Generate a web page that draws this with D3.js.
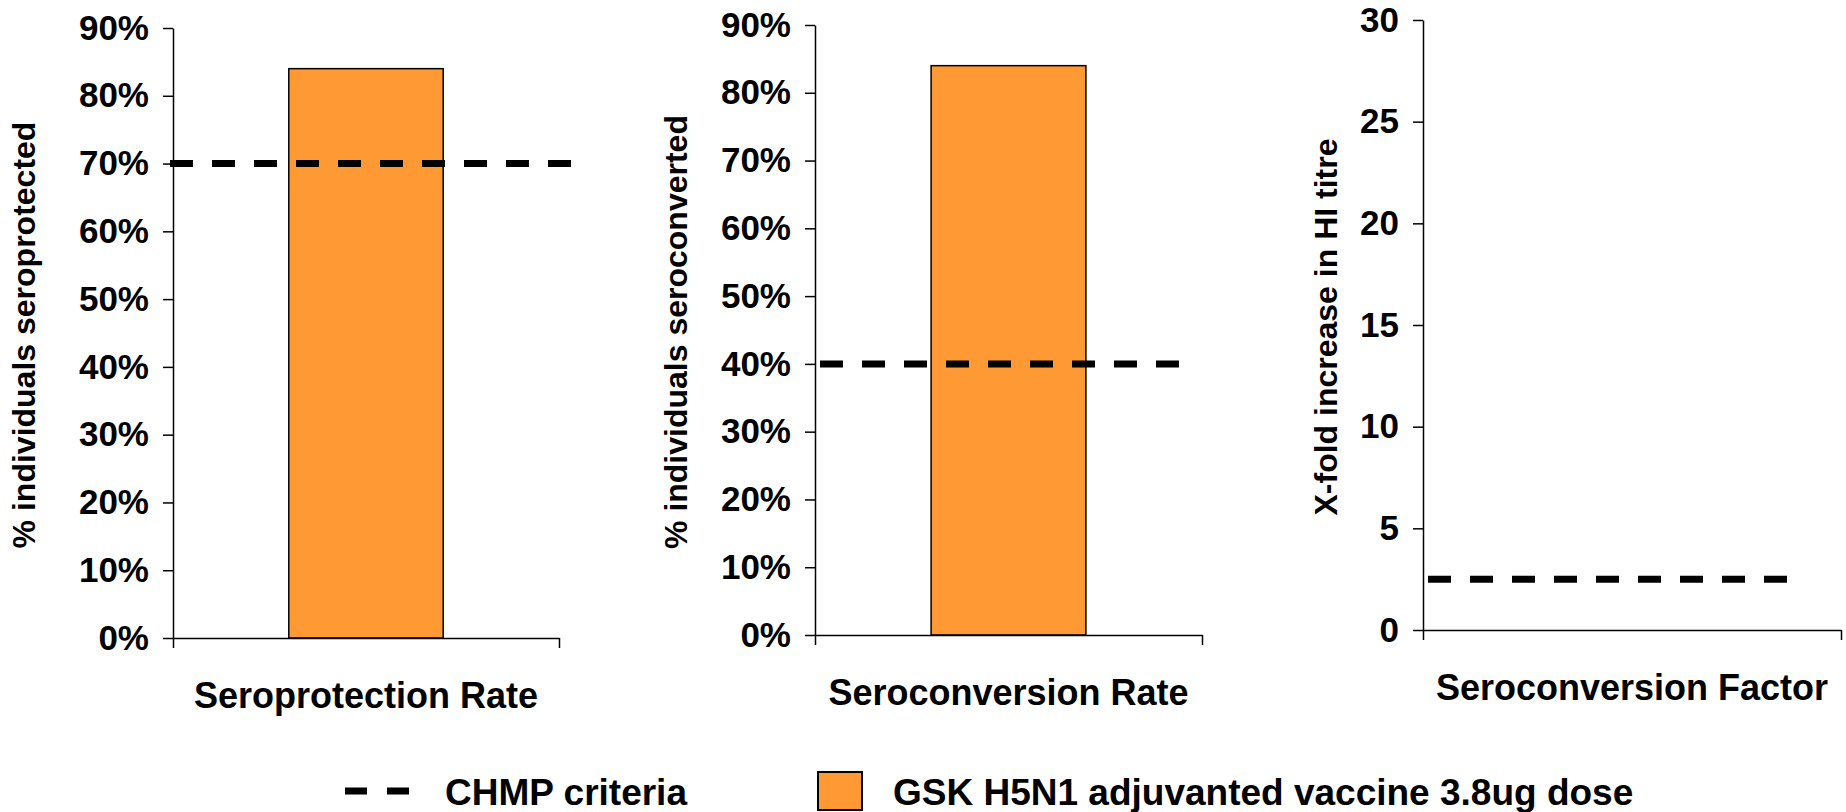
<!DOCTYPE html>
<html>
<head>
<meta charset="utf-8">
<script src="https://cdn.jsdelivr.net/npm/d3@7"></script>
<style>
  body { margin: 0; background: #fff; }
  svg text { font-family: "Liberation Sans", Arial, sans-serif; font-weight: bold; fill: #000; }
</style>
</head>
<body>
<div id="viz-chart"></div>
<script>
// values
const categories = ["Seroprotection Rate", "Seroconversion Rate", "Seroconversion Factor"];
const vaccineValues = [84, 84, null];
const chmpCriteria = [70, 40, 2.5];
const yTitles = ["% individuals seroprotected", "% individuals seroconverted", "X-fold increase in HI titre"];
const yTicks = [
  [0, 10, 20, 30, 40, 50, 60, 70, 80, 90],
  [0, 10, 20, 30, 40, 50, 60, 70, 80, 90],
  [0, 5, 10, 15, 20, 25, 30]
];
const yIsPercent = [true, true, false];
const legendLabels = ["CHMP criteria", "GSK H5N1 adjuvanted vaccine 3.8ug dose"];

// layout of the three panels (pixels)
const layout = [
  { left: 173, right: 559, top: 28, bottom: 638, titleX: 35, lineFrom: 170, lineTo: 571 },
  { left: 815, right: 1202, top: 25, bottom: 635, titleX: 687, lineFrom: 820, lineTo: 1179 },
  { left: 1423, right: 1841, top: 20, bottom: 630, titleX: 1337, lineFrom: 1428, lineTo: 1788 }
];

const orange = "#ff9933";

const svg = d3
  .select("#viz-chart")
  .append("svg")
  .attr("width", 1846)
  .attr("height", 812);

categories.forEach((cat, i) => {
  const L = layout[i];
  const ticks = yTicks[i];
  const y = d3
    .scaleLinear()
    .domain([0, d3.max(ticks)])
    .range([L.bottom, L.top]);
  const x = d3
    .scaleBand()
    .domain([cat])
    .range([L.left, L.right])
    .paddingInner(0)
    .paddingOuter(0.75);
  const edge = d3.scaleLinear().domain([0, 1]).range([L.left, L.right]);

  const g = svg.append("g");

  // bar
  if (vaccineValues[i] != null) {
    g.append("rect")
      .attr("x", x(cat))
      .attr("y", y(vaccineValues[i]))
      .attr("width", x.bandwidth())
      .attr("height", y(0) - y(vaccineValues[i]))
      .style("fill", orange)
      .style("stroke", "#000")
      .style("stroke-width", 1.5);
  }

  // y axis
  const yAxis = g
    .append("g")
    .attr("transform", `translate(${L.left},0)`)
    .call(
      d3
        .axisLeft(y)
        .tickValues(ticks)
        .tickSize(10)
        .tickSizeOuter(0)
        .tickPadding(14)
        .tickFormat((d) => (yIsPercent[i] ? d + "%" : d))
    );
  yAxis.selectAll("path, line").style("stroke", "#000").style("stroke-width", 1.5);
  yAxis.selectAll("text").style("font-size", "35px").style("font-family", null);

  // x axis with category boundary ticks
  const xAxis = g
    .append("g")
    .attr("transform", `translate(0,${L.bottom})`)
    .call(d3.axisBottom(edge).tickValues([0, 1]).tickSize(10).tickSizeOuter(0).tickFormat(""));
  xAxis.selectAll("path, line").style("stroke", "#000").style("stroke-width", 1.5);

  // category label
  g.append("text")
    .attr("x", x(cat) + x.bandwidth() / 2)
    .attr("y", L.bottom + 70)
    .attr("text-anchor", "middle")
    .style("font-size", "36px")
    .text(cat);

  // y title
  g.append("text")
    .attr("transform", `translate(${L.titleX},${(L.top + L.bottom) / 2 + 2}) rotate(-90)`)
    .attr("text-anchor", "middle")
    .style("font-size", "32px")
    .text(yTitles[i]);

  // CHMP criteria line
  g.append("line")
    .attr("x1", L.lineFrom)
    .attr("x2", L.lineTo)
    .attr("y1", y(chmpCriteria[i]))
    .attr("y2", y(chmpCriteria[i]))
    .style("stroke", "#000")
    .style("stroke-width", 7)
    .style("stroke-dasharray", "23 19");
});

// legend
const legend = svg.append("g");
legend
  .append("line")
  .attr("x1", 345)
  .attr("x2", 409)
  .attr("y1", 791)
  .attr("y2", 791)
  .style("stroke", "#000")
  .style("stroke-width", 7)
  .style("stroke-dasharray", "22 20");
legend
  .append("text")
  .attr("x", 445)
  .attr("y", 805)
  .style("font-size", "37px")
  .text(legendLabels[0]);
legend
  .append("rect")
  .attr("x", 818)
  .attr("y", 772)
  .attr("width", 44)
  .attr("height", 38)
  .style("fill", orange)
  .style("stroke", "#000")
  .style("stroke-width", 2);
legend
  .append("text")
  .attr("x", 893)
  .attr("y", 805)
  .style("font-size", "37px")
  .text(legendLabels[1]);
</script>
</body>
</html>
